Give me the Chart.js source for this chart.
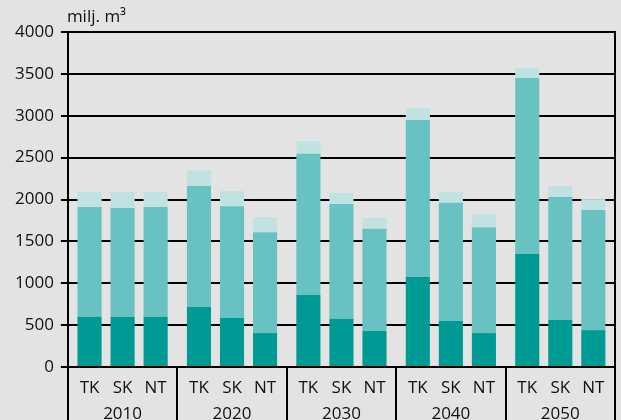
<!DOCTYPE html>
<html>
<head>
<meta charset="utf-8">
<script src="https://cdn.jsdelivr.net/npm/chart.js@4/dist/chart.umd.min.js"></script>
<style>
  html, body { margin: 0; padding: 0; background: #e3e3e3; }
  #wrap { width: 621px; height: 420px; }
</style>
</head>
<body>
<div id="wrap"><canvas id="chart-area"></canvas></div>
<script>
// vuodet ja ryhmät
var years = ['2010', '2020', '2030', '2040', '2050'];
var groups = ['TK', 'SK', 'NT'];
var unitLabel = 'milj. m³';

// alin osa (tumma)
var tkLow = [600, 720, 860, 1075, 1350];
var skLow = [600, 585, 575, 550, 560];
var ntLow = [600, 405, 430, 405, 440];
// keskiosa
var tkMid = [1310, 1440, 1685, 1875, 2100];
var skMid = [1300, 1335, 1370, 1410, 1470];
var ntMid = [1310, 1205, 1220, 1265, 1435];
// ylin osa (vaalea)
var tkTop = [180, 190, 155, 140, 125];
var skTop = [190, 180, 135, 130, 130];
var ntTop = [180, 180, 130, 155, 130];

var yTicks = [0, 500, 1000, 1500, 2000, 2500, 3000, 3500, 4000];

var colDark = '#009a94';
var colMid = '#69c2c2';
var colLight = '#c0e3e2';

var FONT = '"Open Sans", "DejaVu Sans", sans-serif';

function ds(data, stack, color) {
  return {
    data: data,
    stack: stack,
    backgroundColor: color,
    borderWidth: 0,
    categoryPercentage: 0.906,
    barPercentage: 0.73
  };
}

var bgPlugin = {
  id: 'bg',
  beforeDraw: function(chart) {
    var ctx = chart.ctx;
    ctx.save();
    ctx.fillStyle = '#e3e3e3';
    ctx.fillRect(0, 0, chart.width, chart.height);
    ctx.restore();
  }
};

var labelPlugin = {
  id: 'labels',
  afterDraw: function(chart) {
    var ctx = chart.ctx;
    var area = chart.chartArea;
    var xs = chart.scales.x;
    ctx.save();
    ctx.fillStyle = '#111';
    ctx.font = '17px ' + FONT;
    ctx.textBaseline = 'alphabetic';
    ctx.textAlign = 'left';
    ctx.fillText(unitLabel, area.left - 1, 22);

    ctx.textAlign = 'center';
    ctx.textBaseline = 'middle';
    for (var i = 0; i < years.length; i++) {
      for (var g = 0; g < groups.length; g++) {
        var bar = chart.getDatasetMeta(g).data[i];
        ctx.fillText(groups[g], bar.x, area.bottom + 21);
      }
      ctx.fillText(years[i], xs.getPixelForValue(i), area.bottom + 47);
    }
    ctx.restore();
  }
};

var config = {
  type: 'bar',
  data: {
    labels: years,
    datasets: [
      ds(tkLow, 'TK', colDark),
      ds(skLow, 'SK', colDark),
      ds(ntLow, 'NT', colDark),
      ds(tkMid, 'TK', colMid),
      ds(skMid, 'SK', colMid),
      ds(ntMid, 'NT', colMid),
      ds(tkTop, 'TK', colLight),
      ds(skTop, 'SK', colLight),
      ds(ntTop, 'NT', colLight)
    ]
  },
  options: {
    responsive: true,
    maintainAspectRatio: false,
    animation: false,
    layout: { padding: { top: 32, right: 6, bottom: 0, left: 8 } },
    plugins: {
      legend: { display: false },
      tooltip: { enabled: false }
    },
    scales: {
      x: {
        stacked: true,
        offset: true,
        grid: {
          offset: true,
          drawOnChartArea: false,
          drawTicks: true,
          tickLength: 53,
          color: '#000',
          lineWidth: 2
        },
        border: { color: '#000', width: 2 },
        ticks: { display: false }
      },
      y: {
        stacked: true,
        min: 0,
        max: 4000,
        afterBuildTicks: function(axis) {
          axis.ticks = yTicks.map(function(v) { return { value: v }; });
        },
        grid: { color: '#000', lineWidth: 2, tickLength: 7 },
        border: { color: '#000', width: 2 },
        ticks: {
          color: '#111',
          padding: 7,
          font: { family: FONT, size: 17 },
          callback: function(v) { return String(v); }
        }
      },
      y2: {
        position: 'right',
        min: 0,
        max: 4000,
        display: true,
        grid: { drawOnChartArea: false, drawTicks: false },
        border: { color: '#000', width: 2 },
        ticks: { display: false }
      }
    }
  },
  plugins: [bgPlugin, labelPlugin]
};

var ctx = document.getElementById('chart-area').getContext('2d');
window.myBar = new Chart(ctx, config);
</script>
</body>
</html>
